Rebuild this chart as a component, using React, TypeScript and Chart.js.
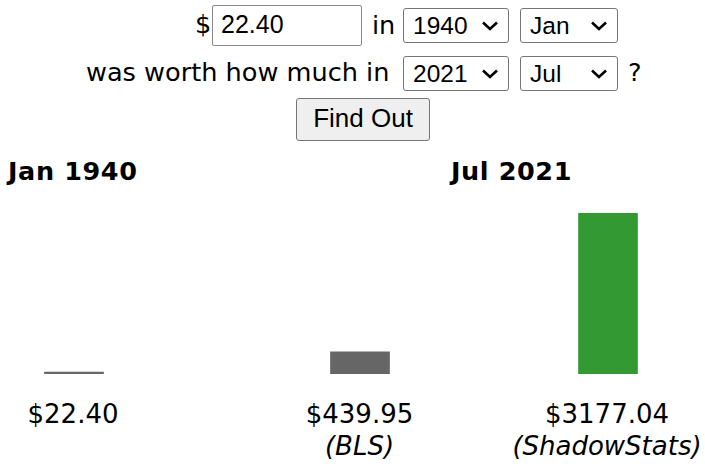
import React, { useEffect, useRef } from "react";
import { Chart, registerables } from "chart.js";

Chart.register(...registerables);

// ---- data ----
const fromLabel = "Jan 1940";
const toLabel = "Jul 2021";
const amountText = "22.40";
const fromYear = "1940";
const fromMonth = "Jan";
const toYear = "2021";
const toMonth = "Jul";
const categories = ["$22.40", "$439.95", "$3177.04"];
const sources = ["", "(BLS)", "(ShadowStats)"];
const values = [22.4, 439.95, 3177.04];
const barColors = ["#666666", "#666666", "#339933"];

const SANS = "'DejaVu Sans', Verdana, sans-serif";
const ARIAL = "'Liberation Sans', Arial, sans-serif";

type TxtProps = {
  x: number;
  base: number;
  size: number;
  family: string;
  center?: boolean;
  bold?: boolean;
  italic?: boolean;
  spacing?: number;
  children: React.ReactNode;
};

function Txt({ x, base, size, family, center, bold, italic, spacing, children }: TxtProps) {
  return (
    <div
      style={{
        position: "absolute",
        left: x,
        top: base - 0.846 * size,
        fontSize: size,
        lineHeight: `${size}px`,
        fontFamily: family,
        fontWeight: bold ? "bold" : "normal",
        fontStyle: italic ? "italic" : "normal",
        letterSpacing: spacing ? `${spacing}px` : undefined,
        whiteSpace: "nowrap",
        color: "#000",
        transform: center ? "translateX(-50%)" : undefined,
      }}
    >
      {children}
    </div>
  );
}

function Chevron({ x, y }: { x: number; y: number }) {
  return (
    <svg width={20} height={12} style={{ position: "absolute", left: x, top: y }}>
      <polyline points="3,2.5 10,9 17,2.5" fill="none" stroke="#000" strokeWidth={2.6} />
    </svg>
  );
}

function SelectBox({ x, y, w, text }: { x: number; y: number; w: number; text: string }) {
  return (
    <>
      <div
        style={{
          position: "absolute",
          left: x,
          top: y,
          width: w,
          height: 35,
          boxSizing: "border-box",
          border: "1px solid #767676",
          borderRadius: 3,
          background: "#fff",
        }}
      />
      <Txt x={x + 10} base={y + 27} size={24.5} family={ARIAL}>
        {text}
      </Txt>
      <Chevron x={x + w - 29} y={y + 12} />
    </>
  );
}

function BarCell({ idx, max }: { idx: number; max: number }) {
  const ref = useRef<HTMLCanvasElement | null>(null);
  useEffect(() => {
    if (!ref.current) return;
    const chart = new Chart(ref.current, {
      type: "bar",
      data: {
        labels: [categories[idx]],
        datasets: [
          {
            data: [values[idx]],
            backgroundColor: barColors[idx],
            borderWidth: 0,
            barThickness: 59,
            minBarLength: 2,
          },
        ],
      },
      options: {
        animation: false,
        responsive: false,
        events: [],
        layout: { padding: 0 },
        plugins: { legend: { display: false }, tooltip: { enabled: false } },
        scales: {
          x: { display: false },
          y: { display: false, min: 0, max },
        },
      },
    });
    return () => chart.destroy();
  }, [idx, max]);
  return <canvas ref={ref} width={80} height={161} />;
}

const barCenters = [73.5, 360, 607.5];
const labelCenters = [73, 359.5, 607];

export default function App() {
  const max = Math.max(...values);
  return (
    <div
      style={{
        position: "absolute",
        left: 0,
        top: 0,
        width: 705,
        height: 466,
        background: "#fff",
        overflow: "hidden",
      }}
    >
      {/* form row 1 */}
      <Txt x={195} base={34} size={25.6} family={SANS}>$</Txt>
      <div
        style={{
          position: "absolute",
          left: 212,
          top: 5,
          width: 150,
          height: 41,
          boxSizing: "border-box",
          border: "1px solid #8a8a8a",
          borderRadius: 2,
          background: "#fff",
        }}
      />
      <Txt x={221} base={33} size={25} family={ARIAL}>{amountText}</Txt>
      <Txt x={372} base={35} size={25.6} family={SANS}>in</Txt>
      <SelectBox x={403} y={8} w={106} text={fromYear} />
      <SelectBox x={520} y={8} w={98} text={fromMonth} />

      {/* form row 2 */}
      <Txt x={86} base={82} size={25.6} family={SANS}>was worth how much in</Txt>
      <SelectBox x={403} y={56} w={106} text={toYear} />
      <SelectBox x={520} y={56} w={98} text={toMonth} />
      <Txt x={628} base={82} size={25.6} family={SANS}>?</Txt>

      {/* button */}
      <div
        style={{
          position: "absolute",
          left: 296,
          top: 98,
          width: 134,
          height: 43,
          boxSizing: "border-box",
          border: "1px solid #767676",
          borderRadius: 3,
          background: "#efefef",
        }}
      />
      <Txt x={363} base={127} size={26} family={ARIAL} center>Find Out</Txt>

      {/* headers */}
      <Txt x={8} base={181} size={25.5} family={SANS} bold spacing={0.6}>{fromLabel}</Txt>
      <Txt x={451} base={181} size={25.5} family={SANS} bold spacing={0.6}>{toLabel}</Txt>

      {/* bars */}
      {values.map((_, i) => (
        <div
          key={i}
          style={{ position: "absolute", left: barCenters[i] - 40, top: 213, width: 80, height: 161 }}
        >
          <BarCell idx={i} max={max} />
        </div>
      ))}

      {/* labels */}
      {categories.map((c, i) => (
        <React.Fragment key={i}>
          <Txt x={labelCenters[i]} base={423} size={26} family={SANS} center>{c}</Txt>
          {sources[i] ? (
            <Txt x={labelCenters[i]} base={455} size={26} family={SANS} center italic>
              {sources[i]}
            </Txt>
          ) : null}
        </React.Fragment>
      ))}
    </div>
  );
}
